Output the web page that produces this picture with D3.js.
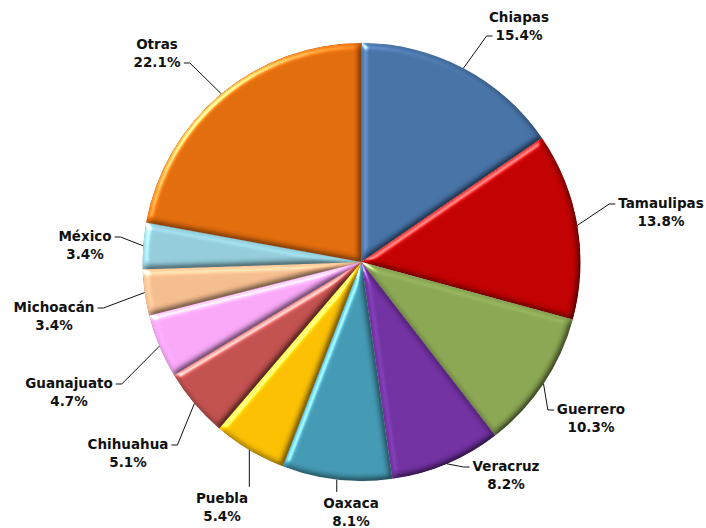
<!DOCTYPE html>
<html>
<head>
<meta charset="utf-8">
<script src="https://cdn.jsdelivr.net/npm/d3@7"></script>
<style>
  html, body { margin: 0; padding: 0; background: #ffffff; }
  svg { display: block; }
  text { font-family: "DejaVu Sans", sans-serif; font-weight: bold; fill: #111; }
</style>
</head>
<body>
<svg id="chart" width="706" height="528"></svg>
<script>
// ---- data ----
const states = ["Chiapas", "Tamaulipas", "Guerrero", "Veracruz", "Oaxaca", "Puebla",
                "Chihuahua", "Guanajuato", "Michoacán", "México", "Otras"];
const shares = [15.4, 13.8, 10.3, 8.2, 8.1, 5.4, 5.1, 4.7, 3.4, 3.4, 22.1];
const colors = ["#4671a5", "#c00000", "#89a552", "#7030a0", "#4398b1", "#f9be00",
                "#c0504d", "#f7a6f6", "#f2bb8d", "#92cad8", "#e06b0b"];

// ---- layout for labels (annotation placement only) ----
// tx, ty: centre of first text line; side: where the leader meets the text; line: which text line
const labelLayout = [
  { tx: 519, ty: 17,  side: "left",  line: 2 },
  { tx: 661, ty: 203, side: "left",  line: 1 },
  { tx: 591, ty: 409, side: "left",  line: 1 },
  { tx: 506, ty: 466, side: "left",  line: 1 },
  { tx: 351, ty: 503, side: "top",   line: 1 },
  { tx: 222, ty: 498, side: "top",   line: 1 },
  { tx: 128, ty: 444, side: "right", line: 1 },
  { tx: 69,  ty: 383, side: "right", line: 1 },
  { tx: 54,  ty: 307, side: "right", line: 1 },
  { tx: 85,  ty: 236, side: "right", line: 1 },
  { tx: 157, ty: 44,  side: "right", line: 2 }
];

const svg = d3.select("#chart");
const cx = 361.5, cy = 262, R = 219;

const defs = svg.append("defs");
const f = defs.append("filter").attr("id", "bevel")
  .attr("color-interpolation-filters", "sRGB")
  .attr("x", "-5%").attr("y", "-5%").attr("width", "110%").attr("height", "110%");
f.append("feGaussianBlur").attr("in", "SourceAlpha").attr("stdDeviation", 3).attr("result", "blur");
const spec = f.append("feSpecularLighting").attr("in", "blur")
  .attr("surfaceScale", 4).attr("specularConstant", 1.0).attr("specularExponent", 28)
  .attr("lighting-color", "#ffffff").attr("result", "spec");
spec.append("feDistantLight").attr("azimuth", 225).attr("elevation", 30);
f.append("feComposite").attr("in", "spec").attr("in2", "SourceAlpha").attr("operator", "in").attr("result", "specIn");
const diff = f.append("feDiffuseLighting").attr("in", "blur")
  .attr("surfaceScale", 3).attr("diffuseConstant", 1).attr("lighting-color", "#ffffff").attr("result", "diff");
diff.append("feDistantLight").attr("azimuth", 225).attr("elevation", 60);
// normalise diffuse so flat faces keep their colour (flat = sin(60°) ≈ 0.866)
f.append("feComposite").attr("in", "SourceGraphic").attr("in2", "diff").attr("operator", "arithmetic")
  .attr("k1", 1.155).attr("k2", 0).attr("k3", 0).attr("k4", 0).attr("result", "lit");
f.append("feComposite").attr("in", "lit").attr("in2", "SourceAlpha").attr("operator", "in").attr("result", "litIn");
f.append("feComposite").attr("in", "litIn").attr("in2", "specIn").attr("operator", "arithmetic")
  .attr("k1", 0).attr("k2", 1).attr("k3", 0.6).attr("k4", 0);

const data = states.map((s, i) => ({ name: s, value: shares[i], color: colors[i], layout: labelLayout[i] }));

const pie = d3.pie().value(d => d.value).sort(null).startAngle(0).endAngle(2 * Math.PI);
const arcs = pie(data);
const arc = d3.arc().innerRadius(0).outerRadius(R);

const g = svg.append("g").attr("transform", `translate(${cx},${cy})`);

g.selectAll("path.slice").data(arcs).join("path")
  .attr("class", "slice")
  .attr("d", arc)
  .attr("fill", d => d.data.color)
  .attr("stroke", d => d.data.color)
  .attr("stroke-width", 0.4)
  .attr("filter", "url(#bevel)");

// ---- labels ----
const lh = 18;
const lab = svg.append("g");
arcs.forEach(a => {
  const L = a.data.layout;
  const t = lab.append("text").attr("text-anchor", "middle").attr("font-size", 13.5);
  t.append("tspan").attr("x", L.tx).attr("y", L.ty).attr("dy", "0.36em").text(a.data.name);
  t.append("tspan").attr("x", L.tx).attr("y", L.ty + lh).attr("dy", "0.36em")
    .text(d3.format(".1f")(a.data.value) + "%");
  const bb = t.node().getBBox();
  const spans = t.selectAll("tspan").nodes();
  const lineBox = spans[L.line - 1].getBBox();

  const mid = (a.startAngle + a.endAngle) / 2;
  const sx = cx + R * Math.sin(mid), sy = cy - R * Math.cos(mid);
  let pts;
  if (L.side === "top") {
    pts = [[sx, sy], [sx, bb.y - 3]];
  } else if (L.side === "left") {
    const ex = lineBox.x - 3, ey = L.ty + (L.line - 1) * lh + 1;
    pts = [[sx, sy], [ex - 6, ey], [ex, ey]];
  } else {
    const ex = lineBox.x + lineBox.width + 3, ey = L.ty + (L.line - 1) * lh + 1;
    pts = [[sx, sy], [ex + 6, ey], [ex, ey]];
  }
  lab.append("path").attr("d", d3.line()(pts))
    .attr("fill", "none").attr("stroke", "#111").attr("stroke-width", 1);
});
</script>
</body>
</html>
